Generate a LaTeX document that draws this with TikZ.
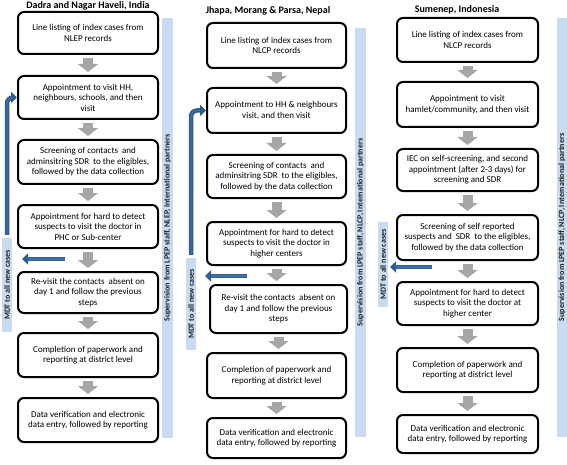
\documentclass[tikz,border=0pt]{standalone}
\usepackage{fontspec}
\setmainfont{Carlito}
\usetikzlibrary{arrows.meta,calc}
\definecolor{arrgray}{HTML}{A6A6A6}
\definecolor{barblue}{HTML}{C9DBF1}
\definecolor{darkblue}{HTML}{2F5D8E}
\definecolor{midblue}{HTML}{3F70AC}
\definecolor{bartext}{HTML}{1F1F1F}
\tikzset{
  box/.style={draw=black, line width=2pt, rounded corners=6pt, fill=white,
    align=center, font=\fontsize{9}{10.5}\selectfont, inner sep=0pt},
  coltitle/.style={font=\fontsize{10}{12}\selectfont\bfseries, inner sep=0pt},
  vbar/.style={fill=barblue, rotate=90, inner sep=0pt, text=bartext,
    font=\fontsize{8}{9}\selectfont\bfseries},
  grayarr/.style={draw=arrgray, line width=10pt, -{Triangle[length=8pt,width=20pt]},
    shorten <=3pt, shorten >=3pt},
  bluearr/.style={draw=darkblue, line width=4.5pt, -{Triangle[length=6pt,width=11pt]}},
  blueinner/.style={draw=midblue, line width=1.2pt, shorten >=6pt},
}
\begin{document}
\begin{tikzpicture}[x=1pt,y=-1pt]
\useasboundingbox (0,0) rectangle (567,465);
\fill[white] (0,0) rectangle (567,465);

% titles
\node[coltitle] (t1) at (88,6) {Dadra and Nagar Haveli, India};
\node[coltitle] (t2) at (268,11) {Jhapa, Morang \& Parsa, Nepal};
\node[coltitle] (t3) at (457,10) {Sumenep, Indonesia};

% supervision bars
\node[vbar, minimum width=420pt, minimum height=11pt] (sup1) at (167.5,228) {Supervision from LPEP staff, NLEP, International partners};
\node[vbar, minimum width=409pt, minimum height=11pt] (sup2) at (360.5,232.5) {Supervision from LPEP staff, NLCP, International partners};
\node[vbar, minimum width=419pt, minimum height=10pt] (sup3) at (562,227.5) {Supervision from LPEP staff, NLCP, International partners};

% MDT bars
\node[vbar, minimum width=94pt, minimum height=10pt] (mdt1) at (7,285) {MDT to all new cases};
\node[vbar, minimum width=92pt, minimum height=10pt] (mdt2) at (191,304) {MDT to all new cases};
\node[vbar, minimum width=85pt, minimum height=10pt] (mdt3) at (383,264.5) {MDT to all new cases};

% column 1
\node[box, minimum width=140pt, minimum height=42pt] (a1) at (88,33) {Line listing of index cases from\\NLEP records};
\node[box, minimum width=140pt, minimum height=43pt] (a2) at (88,97.5) {Appointment to visit HH,\\neighbours, schools, and then\\visit};
\node[box, minimum width=140pt, minimum height=44pt] (a3) at (88,162) {Screening of contacts~ and\\adminsitring SDR~ to the eligibles,\\followed by the data collection};
\node[box, minimum width=140pt, minimum height=43pt] (a4) at (88,226.5) {Appointment for hard to detect\\suspects to visit the doctor in\\PHC or Sub-center};
\node[box, minimum width=140pt, minimum height=41pt] (a5) at (88,292.5) {Re-visit the contacts~ absent on\\day 1 and follow the previous\\steps};
\node[box, minimum width=140pt, minimum height=44pt] (a6) at (88,355) {Completion of paperwork and\\reporting at district level};
\node[box, minimum width=140pt, minimum height=44pt] (a7) at (88,420) {Data verification and electronic\\data entry, followed by reporting};

% column 2
\node[box, minimum width=139pt, minimum height=45pt] (b1) at (276.5,45.5) {Line listing of index cases from\\NLCP records};
\node[box, minimum width=139pt, minimum height=45pt] (b2) at (276.5,110.5) {Appointment to HH \& neighbours\\visit, and then visit};
\node[box, minimum width=139pt, minimum height=43pt] (b3) at (276.5,176.5) {Screening of contacts~ and\\adminsitring SDR~ to the eligibles,\\followed by the data collection};
\node[box, minimum width=139pt, minimum height=43pt] (b4) at (276.5,243.5) {Appointment for hard to detect\\suspects to visit the doctor in\\higher centers};
\node[box, minimum width=137pt, minimum height=48pt] (b5) at (278.5,309) {Re-visit the contacts~ absent on\\day 1 and follow the previous\\steps};
\node[box, minimum width=139pt, minimum height=45pt] (b6) at (276.5,375.5) {Completion of paperwork and\\reporting at district level};
\node[box, minimum width=139pt, minimum height=40pt] (b7) at (276.5,438) {Data verification and electronic\\data entry, followed by reporting};

% column 3
\node[box, minimum width=141pt, minimum height=44pt] (c1) at (467.5,40) {Line listing of index cases from\\NLCP records};
\node[box, minimum width=141pt, minimum height=45pt] (c2) at (467.5,104.5) {Appointment to visit\\hamlet/community, and then visit};
\node[box, minimum width=141pt, minimum height=42pt] (c3) at (467.5,170) {IEC on self-screening, and second\\appointment (after 2-3 days) for\\screening and SDR};
\node[box, minimum width=141pt, minimum height=45pt] (c4) at (467.5,237.5) {Screening of self reported\\suspects and~ SDR~ to the eligibles,\\followed by the data collection};
\node[box, minimum width=141pt, minimum height=43pt] (c5) at (467.5,303.5) {Appointment for hard to detect\\suspects to visit the doctor at\\higher center};
\node[box, minimum width=141pt, minimum height=44pt] (c6) at (467.5,370) {Completion of paperwork and\\reporting at district level};
\node[box, minimum width=141pt, minimum height=38pt] (c7) at (467.5,434) {Data verification and electronic\\data entry, followed by reporting};

% gray arrows
\foreach \c in {a,b,c}{
  \foreach \i/\j in {1/2,2/3,3/4,4/5,5/6,6/7}{
    \draw[grayarr] (\c\i.south) -- (\c\i.south |- \c\j.north);
  }
}

% blue return arrows (up)
\coordinate (u1) at ($(mdt1.east)+(0,-3)$);
\coordinate (u2) at ($(mdt2.east)+(0,-3)$);
\draw[bluearr, rounded corners=6pt] (u1) |- (a2.west);
\draw[blueinner, rounded corners=6pt] (u1) |- (a2.west);
\draw[bluearr, rounded corners=6pt] (u2) |- (b2.west);
\draw[blueinner, rounded corners=6pt] (u2) |- (b2.west);

% blue left arrows
\coordinate (l1s) at (65,259);
\coordinate (l1e) at (22,259);
\coordinate (l2s) at (247,276);
\coordinate (l2e) at (205,276);
\coordinate (l3s) at (432,267);
\coordinate (l3e) at (390,267);
\foreach \k in {1,2,3}{
  \draw[bluearr] (l\k s) -- (l\k e);
  \draw[blueinner] (l\k s) -- (l\k e);
}
\end{tikzpicture}
\end{document}
